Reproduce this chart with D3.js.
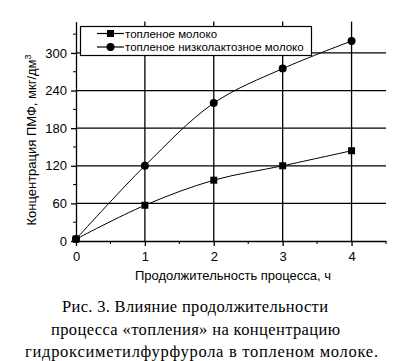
<!DOCTYPE html>
<html><head><meta charset="utf-8">
<script src="https://cdn.jsdelivr.net/npm/d3@7/dist/d3.min.js"></script>
<style>body{margin:0;background:#fff}svg{display:block}</style>
</head><body>
<script>
const hours = [0, 1, 2, 3, 4];
const meltedMilk = [3, 57, 97, 120, 144];
const lowLactoseMilk = [3, 120, 220, 275, 319];
const seriesNames = ["топленое молоко", "топленое низколактозное молоко"];
const xTicks = [0, 1, 2, 3, 4];
const yTicks = [0, 60, 120, 180, 240, 300];
const captionLines = ["Рис. 3. Влияние продолжительности", "процесса «топления» на концентрацию", "гидроксиметилфурфурола в топленом молоке."];

const W = 409, H = 361;
const svg = d3.select("body").append("svg").attr("width", W).attr("height", H);
const x = d3.scaleLinear().domain([0, 4.5]).range([76, 386]);
const y = d3.scaleLinear().domain([0, 350]).range([241, 21.6]);
const font = "'Liberation Sans', Arial, sans-serif";

// grid
const g = svg.append("g");
g.selectAll(".gy").data(yTicks.filter(d => d > 0)).enter().append("line")
  .attr("x1", x(0)).attr("x2", x(4.5)).attr("y1", d => y(d)).attr("y2", d => y(d))
  .attr("stroke", "#000").attr("stroke-width", 1.3);
g.selectAll(".gx").data(xTicks.filter(d => d > 0)).enter().append("line")
  .attr("x1", d => x(d)).attr("x2", d => x(d)).attr("y1", y(0)).attr("y2", y(350))
  .attr("stroke", "#000").attr("stroke-width", 1.3);

// axes
const xAxis = d3.axisBottom(x).tickValues(xTicks).tickFormat(d3.format("d")).tickSize(5).tickSizeOuter(0);
const yAxis = d3.axisLeft(y).tickValues(yTicks).tickSize(5).tickSizeOuter(0);
const gx = svg.append("g").attr("transform", `translate(0,${y(0)})`).call(xAxis);
const gy = svg.append("g").attr("transform", `translate(${x(0)},0)`).call(yAxis);
[gx, gy].forEach(a => {
  a.select(".domain").attr("stroke", "#000").attr("stroke-width", 1.3);
  a.selectAll(".tick line").attr("stroke", "#000").attr("stroke-width", 1.3);
  a.selectAll("text").attr("font-family", font).attr("font-size", 13).attr("fill", "#000");
});
gx.selectAll("text").attr("dy", "0.9em");
gy.selectAll("text").attr("dx", "-1px");
// minor ticks
svg.append("g").selectAll("line").data(d3.range(0.5, 4.6, 1)).enter().append("line")
  .attr("x1", d => x(d)).attr("x2", d => x(d)).attr("y1", y(0)).attr("y2", y(0) + 3)
  .attr("stroke", "#000").attr("stroke-width", 1);
svg.append("g").selectAll("line").data(d3.range(30, 350, 60)).enter().append("line")
  .attr("x1", x(0) - 3).attr("x2", x(0)).attr("y1", d => y(d)).attr("y2", d => y(d))
  .attr("stroke", "#000").attr("stroke-width", 1);

// lines
const line = d3.line().x((d, i) => x(hours[i])).y(d => y(d)).curve(d3.curveCatmullRom.alpha(0.5));
[meltedMilk, lowLactoseMilk].forEach(s => {
  svg.append("path").attr("d", line(s)).attr("fill", "none").attr("stroke", "#000").attr("stroke-width", 1);
});
// markers
svg.append("g").selectAll("rect").data(meltedMilk).enter().append("rect")
  .attr("x", (d, i) => x(hours[i]) - 3.5).attr("y", d => y(d) - 3.5).attr("width", 7).attr("height", 7).attr("fill", "#000");
svg.append("g").selectAll("circle").data(lowLactoseMilk).enter().append("circle")
  .attr("cx", (d, i) => x(hours[i])).attr("cy", d => y(d)).attr("r", 4).attr("fill", "#000");

// legend
const lg = svg.append("g");
lg.append("rect").attr("x", 80.5).attr("y", 26.5).attr("width", 231).attr("height", 29)
  .attr("fill", "#fff").attr("stroke", "#000").attr("stroke-width", 1.2);
seriesNames.forEach((n, i) => {
  const yy = 33.5 + i * 13.5;
  lg.append("line").attr("x1", 97).attr("x2", 124).attr("y1", yy).attr("y2", yy).attr("stroke", "#000").attr("stroke-width", 1.2);
  if (i === 0) lg.append("rect").attr("x", 107).attr("y", yy - 3.5).attr("width", 7).attr("height", 7).attr("fill", "#000");
  else lg.append("circle").attr("cx", 110.5).attr("cy", yy).attr("r", 4).attr("fill", "#000");
  lg.append("text").attr("x", 125).attr("y", yy + 4).attr("font-family", font).attr("font-size", 11.5).text(n);
});

// axis titles
svg.append("text").attr("x", 233).attr("y", 280).attr("text-anchor", "middle")
  .attr("font-family", font).attr("font-size", 13).text("Продолжительность процесса, ч");
const yt = svg.append("text").attr("transform", `translate(36,${140}) rotate(-90)`).attr("text-anchor", "middle")
  .attr("font-family", font).attr("font-size", 13);
yt.append("tspan").text("Концентрация ПМФ, мкг/дм");
yt.append("tspan").attr("dy", -5).attr("font-size", 9).text("3");

// caption
const capWidths = [266, 289, 353];
const capCenters = [195, 195.5, 201.5];
captionLines.forEach((t, i) => {
  svg.append("text").attr("x", capCenters[i] - capWidths[i] / 2).attr("y", 312 + i * 22.5)
    .attr("textLength", capWidths[i]).attr("lengthAdjust", "spacing")
    .attr("font-family", "'Liberation Serif', 'Times New Roman', serif").attr("font-size", 16.5).text(t);
});
</script>
</body></html>
